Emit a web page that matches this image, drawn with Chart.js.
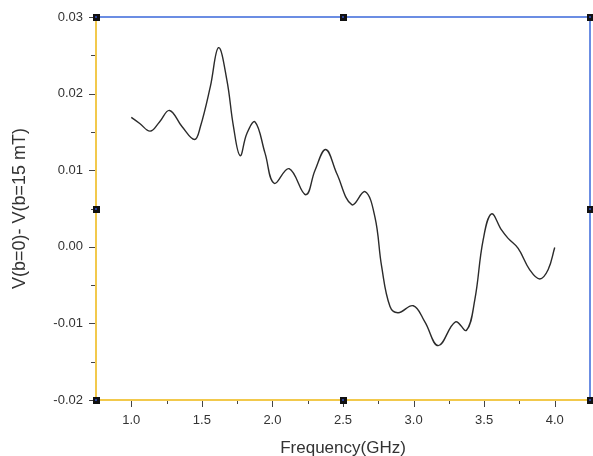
<!DOCTYPE html>
<html>
<head>
<meta charset="utf-8">
<script src="https://cdn.jsdelivr.net/npm/chart.js@4/dist/chart.umd.min.js"></script>
<style>
  html, body { margin: 0; padding: 0; background: #fff; }
  #wrap { width: 593px; height: 456px; }
</style>
</head>
<body>
<div id="wrap"><canvas id="chart" width="593" height="456"></canvas></div>
<script>
const freq = [1.00, 1.06, 1.134, 1.20, 1.271, 1.359, 1.448, 1.49, 1.56, 1.618, 1.677, 1.724, 1.771,
  1.819, 1.877, 1.948, 2.012, 2.118, 2.236, 2.302, 2.378, 2.455, 2.562, 2.656, 2.726, 2.774,
  2.833, 2.891, 2.998, 3.08, 3.175, 3.297, 3.375, 3.434, 3.493, 3.552, 3.623, 3.67, 3.741,
  3.823, 3.894, 3.953, 4.00];
const signal = [0.0169, 0.0161, 0.0151, 0.0163, 0.0178, 0.0157, 0.0140, 0.0157, 0.0209, 0.0260, 0.0218, 0.0157, 0.0119,
  0.0148, 0.0163, 0.0122, 0.0083, 0.0102, 0.0068, 0.0100, 0.0127, 0.0096, 0.0055, 0.0072, 0.0039, -0.0026,
  -0.0078, -0.0086, -0.0077, -0.0098, -0.0129, -0.0098, -0.0109, -0.0069, 0.0009, 0.0043, 0.0022, 0.0011, -0.0002,
  -0.0030, -0.0042, -0.0030, -0.0001];

const xMin = 0.75, xMax = 4.25;
const yMin = -0.02, yMax = 0.03;
const xLabels = [1.0, 1.5, 2.0, 2.5, 3.0, 3.5, 4.0];
const yLabels = [-0.02, -0.01, 0.00, 0.01, 0.02, 0.03];

const yellow = "#f2c94c";
const blue = "#6b8de3";
const tickColor = "#444";
const font = "Arial, 'Liberation Sans', sans-serif";

const points = freq.map((f, i) => ({ x: f, y: signal[i] }));

function near(v, arr) {
  return arr.some(a => Math.abs(a - v) < 1e-6);
}

// axis frame, tick marks and selection handles
const framePlugin = {
  id: "frame",
  afterDraw(chart) {
    const { ctx, chartArea: a, scales } = chart;
    const xs = scales.x, ys = scales.y;
    ctx.save();
    ctx.lineWidth = 2;
    ctx.strokeStyle = blue;
    ctx.beginPath();
    ctx.moveTo(a.left, a.top); ctx.lineTo(a.right, a.top); ctx.lineTo(a.right, a.bottom);
    ctx.stroke();
    ctx.strokeStyle = yellow;
    ctx.beginPath();
    ctx.moveTo(a.right, a.bottom); ctx.lineTo(a.left, a.bottom); ctx.lineTo(a.left, a.top);
    ctx.stroke();

    ctx.lineWidth = 1;
    ctx.strokeStyle = tickColor;
    ctx.beginPath();
    ys.ticks.forEach(t => {
      const py = Math.round(ys.getPixelForValue(t.value)) + 0.5;
      const len = near(t.value, yLabels) ? 7 : 5;
      ctx.moveTo(a.left - len, py); ctx.lineTo(a.left - 1, py);
    });
    xs.ticks.forEach(t => {
      const px = Math.round(xs.getPixelForValue(t.value)) + 0.5;
      const len = near(t.value, xLabels) ? 7 : 4;
      ctx.moveTo(px, a.bottom + 1); ctx.lineTo(px, a.bottom + len);
    });
    ctx.stroke();

    const midX = (a.left + a.right) / 2, midY = (a.top + a.bottom) / 2;
    const handles = [[a.left, a.top], [midX, a.top], [a.right, a.top], [a.left, midY],
      [a.right, midY], [a.left, a.bottom], [midX, a.bottom], [a.right, a.bottom]];
    handles.forEach(([hx, hy]) => {
      ctx.fillStyle = "#111";
      ctx.fillRect(Math.round(hx) - 3, Math.round(hy) - 3, 7, 7);
      ctx.fillStyle = "#2a3f9a";
      ctx.fillRect(Math.round(hx) - 1, Math.round(hy) - 1, 2, 2);
    });
    ctx.restore();
  }
};

new Chart(document.getElementById("chart"), {
  type: "scatter",
  data: {
    datasets: [{
      data: points,
      showLine: true,
      borderColor: "#2b2b2b",
      borderWidth: 1.4,
      pointRadius: 0,
      tension: 0.4,
      fill: false
    }]
  },
  options: {
    responsive: false,
    animation: false,
    layout: { padding: { left: 0, top: 17, right: 3, bottom: 0 } },
    plugins: { legend: { display: false }, tooltip: { enabled: false } },
    scales: {
      x: {
        type: "linear",
        min: xMin,
        max: xMax,
        afterFit: s => { s.height = 56; s.paddingLeft = 0; s.paddingRight = 0; },
        grid: { display: false },
        border: { display: false },
        ticks: {
          stepSize: 0.25,
          autoSkip: false,
          maxRotation: 0,
          padding: 5,
          color: "#333",
          font: { family: font, size: 13 },
          callback: v => near(v, xLabels) ? v.toFixed(1) : ""
        },
        title: {
          display: true,
          text: "Frequency(GHz)",
          color: "#333",
          font: { family: font, size: 17 },
          padding: { top: 0, bottom: -3 }
        }
      },
      y: {
        min: yMin,
        max: yMax,
        afterFit: s => { s.width = 96; s.paddingTop = 0; s.paddingBottom = 0; },
        grid: { display: false },
        border: { display: false },
        ticks: {
          stepSize: 0.005,
          autoSkip: false,
          padding: 5,
          color: "#333",
          font: { family: font, size: 13 },
          callback: v => near(v, yLabels) ? v.toFixed(2) : ""
        },
        title: {
          display: true,
          text: "V(b=0)- V(b=15 mT)",
          color: "#333",
          font: { family: font, size: 18 },
          padding: { top: 9, bottom: 0 }
        }
      }
    }
  },
  plugins: [framePlugin]
});
</script>
</body>
</html>
